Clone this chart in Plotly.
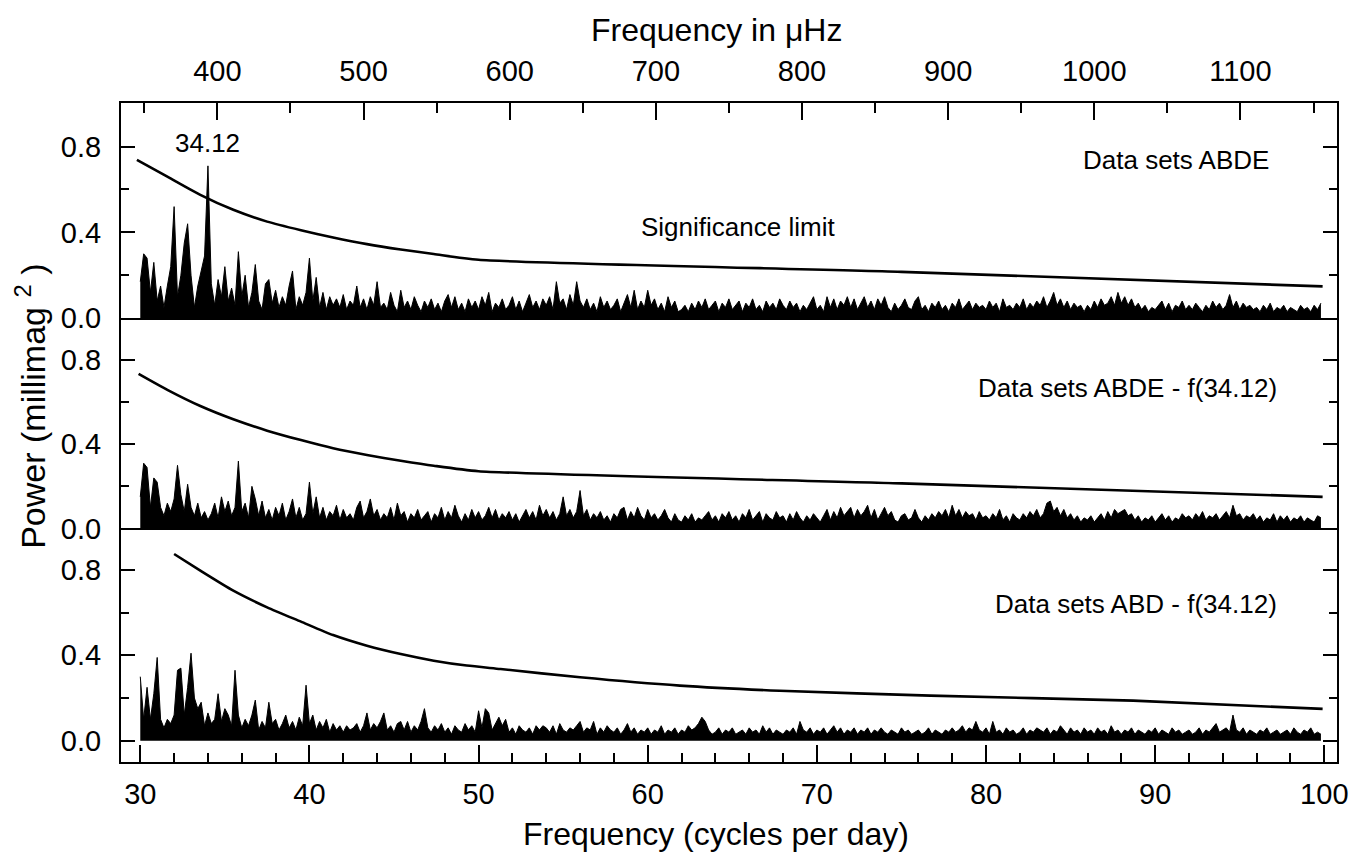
import plotly.graph_objects as go

# ---------------- data ----------------
FREQ_START = 30.0      # cycles per day
FREQ_STEP = 0.2
CD_TO_UHZ = 11.574     # 1 c/d in microHz

# Data sets ABDE
power_abde = [
    .17, .30, .28, .12, .26, .08, .15, .05, .15, .24,
    .52, .10, .20, .35, .44, .20, .05, .15, .22, .29,
    .71, .16, .06, .18, .10, .24, .08, .14, .06, .31,
    .10, .20, .05, .12, .25, .08, .04, .16, .18, .07,
    .13, .05, .10, .06, .15, .22, .04, .10, .06, .12,
    .28, .08, .19, .05, .12, .04, .10, .06, .09, .05,
    .11, .04, .08, .06, .15, .05, .09, .04, .10, .06,
    .17, .05, .07, .04, .12, .06, .03, .13, .05, .08,
    .04, .10, .06, .03, .08, .05, .09, .04, .07, .03,
    .08, .11, .05, .10, .04, .07, .03, .09, .05, .08,
    .04, .10, .06, .12, .03, .07, .05, .09, .04, .06,
    .10, .04, .08, .03, .07, .11, .05, .08, .04, .09,
    .06, .10, .04, .17, .07, .09, .04, .11, .06, .17,
    .08, .05, .09, .04, .07, .03, .10, .05, .08, .04,
    .06, .09, .03, .07, .11, .05, .13, .04, .08, .05,
    .13, .06, .09, .04, .07, .03, .10, .05, .08, .03,
    .04, .06, .03, .07, .04, .08, .05, .09, .04, .06,
    .08, .03, .07, .05, .09, .04, .06, .08, .03, .07,
    .05, .09, .04, .06, .03, .08, .05, .07, .04, .09,
    .06, .04, .08, .05, .07, .03, .06, .04, .07, .10,
    .04, .06, .03, .10, .05, .09, .04, .08, .06, .10,
    .05, .09, .04, .07, .10, .05, .08, .04, .09, .06,
    .10, .05, .03, .07, .04, .06, .09, .05, .04, .08,
    .10, .04, .06, .03, .07, .05, .08, .04, .06, .03,
    .07, .05, .09, .04, .06, .08, .04, .07, .05, .06,
    .04, .08, .05, .07, .03, .09, .05, .06, .04, .07,
    .05, .09, .04, .07, .05, .08, .06, .10, .05, .08,
    .12, .06, .09, .05, .08, .04, .07, .05, .06, .03,
    .06, .04, .08, .05, .09, .06, .07, .10, .06, .12,
    .07, .10, .06, .09, .05, .07, .04, .06, .03, .05,
    .04, .06, .08, .04, .07, .03, .06, .05, .08, .04,
    .06, .04, .07, .05, .03, .06, .04, .08, .05, .07,
    .04, .06, .11, .05, .08, .04, .07, .05, .06, .04,
    .05, .03, .06, .04, .07, .03, .05, .04, .06, .03,
    .05, .04, .03, .06, .04, .05, .03, .06, .04, .07,
]

# Data sets ABDE - f(34.12)
power_abde_pw = [
    .15, .31, .29, .10, .24, .22, .10, .06, .12, .08,
    .14, .30, .16, .08, .21, .10, .06, .12, .05, .08,
    .04, .07, .12, .05, .15, .08, .13, .06, .10, .32,
    .08, .12, .05, .20, .14, .06, .13, .05, .09, .04,
    .10, .06, .12, .04, .08, .14, .05, .10, .04, .07,
    .22, .07, .15, .05, .10, .04, .08, .06, .11, .04,
    .09, .05, .07, .04, .10, .13, .05, .08, .14, .06,
    .09, .04, .07, .05, .10, .04, .12, .06, .08, .03,
    .07, .05, .09, .04, .06, .08, .03, .07, .05, .10,
    .04, .08, .05, .11, .06, .03, .07, .04, .09, .05,
    .08, .04, .06, .10, .05, .09, .04, .07, .05, .08,
    .04, .07, .03, .06, .09, .05, .08, .04, .11, .06,
    .09, .05, .08, .04, .07, .15, .06, .09, .05, .08,
    .18, .06, .09, .04, .07, .05, .08, .04, .06, .03,
    .07, .05, .09, .10, .04, .08, .05, .10, .06, .04,
    .09, .05, .07, .04, .06, .09, .05, .03, .07, .04,
    .03, .06, .04, .07, .03, .05, .04, .06, .08, .04,
    .06, .03, .07, .05, .08, .04, .06, .03, .07, .05,
    .09, .04, .06, .08, .03, .07, .05, .04, .08, .05,
    .06, .03, .07, .04, .08, .05, .03, .06, .04, .07,
    .05, .03, .06, .09, .04, .08, .05, .10, .06, .08,
    .10, .05, .09, .06, .08, .11, .05, .09, .04, .07,
    .10, .06, .08, .04, .03, .06, .07, .04, .05, .09,
    .05, .03, .06, .04, .07, .05, .08, .06, .09, .05,
    .11, .06, .09, .05, .08, .06, .07, .04, .08, .05,
    .06, .04, .07, .05, .09, .04, .06, .03, .07, .05,
    .04, .07, .05, .08, .06, .09, .05, .07, .12, .13,
    .08, .10, .06, .09, .05, .07, .04, .06, .03, .05,
    .04, .06, .03, .05, .07, .04, .08, .05, .09, .07,
    .08, .09, .06, .07, .04, .06, .03, .05, .04, .06,
    .03, .05, .07, .04, .06, .03, .05, .04, .07, .05,
    .06, .04, .07, .05, .08, .04, .06, .05, .07, .04,
    .06, .08, .05, .11, .06, .07, .04, .06, .05, .07,
    .04, .06, .03, .05, .04, .07, .03, .06, .04, .06,
    .03, .05, .04, .06, .03, .05, .04, .03, .06, .05,
]

# Data sets ABD - f(34.12)
power_abd_pw = [
    .30, .10, .25, .10, .22, .39, .10, .06, .10, .08,
    .12, .33, .34, .12, .25, .41, .20, .15, .18, .07,
    .13, .08, .10, .22, .09, .15, .12, .07, .33, .12,
    .06, .10, .07, .12, .19, .05, .09, .06, .18, .08,
    .10, .05, .08, .12, .06, .09, .05, .11, .07, .26,
    .08, .12, .05, .09, .06, .10, .04, .08, .05, .07,
    .04, .07, .05, .06, .08, .04, .07, .13, .05, .08,
    .06, .09, .13, .05, .07, .04, .08, .09, .05, .09,
    .04, .07, .05, .09, .15, .06, .04, .07, .05, .08,
    .04, .06, .03, .07, .05, .04, .08, .05, .07, .04,
    .14, .06, .15, .13, .05, .08, .11, .07, .10, .04,
    .06, .03, .07, .05, .04, .06, .03, .07, .05, .07,
    .06, .04, .07, .03, .08, .05, .04, .06, .05, .07,
    .09, .04, .06, .05, .09, .03, .06, .04, .07, .05,
    .04, .06, .03, .05, .08, .04, .06, .03, .05, .04,
    .06, .03, .05, .04, .07, .03, .05, .04, .06, .03,
    .05, .04, .07, .05, .06, .08, .11, .09, .05, .03,
    .04, .06, .03, .05, .04, .06, .03, .04, .05, .03,
    .06, .04, .05, .03, .07, .04, .06, .03, .05, .04,
    .03, .05, .04, .06, .03, .09, .05, .04, .06, .03,
    .05, .04, .06, .03, .05, .07, .04, .06, .03, .05,
    .04, .06, .03, .05, .04, .06, .03, .05, .04, .06,
    .04, .03, .05, .04, .03, .06, .04, .05, .03, .04,
    .05, .03, .04, .06, .03, .05, .04, .03, .05, .04,
    .06, .04, .05, .07, .04, .06, .05, .09, .05, .04,
    .06, .03, .09, .04, .05, .03, .06, .04, .05, .03,
    .04, .06, .03, .05, .04, .06, .05, .04, .06, .03,
    .05, .04, .07, .05, .03, .06, .04, .05, .03, .06,
    .04, .05, .03, .06, .04, .05, .03, .07, .04, .05,
    .03, .05, .04, .06, .03, .05, .04, .03, .05, .04,
    .06, .03, .05, .04, .03, .06, .04, .05, .03, .04,
    .05, .03, .04, .06, .03, .05, .04, .06, .08, .04,
    .05, .06, .04, .12, .05, .04, .06, .03, .05, .04,
    .03, .05, .04, .06, .03, .04, .05, .03, .04, .05,
    .03, .06, .04, .03, .05, .04, .06, .03, .04, .03,
]

# significance limits
sig_abde_x = [29.8, 31.6, 33.55, 35.5, 37.5, 39.5, 41.4, 43.4, 45.4, 47.35, 50.0, 75.0, 99.9]
sig_abde_y = [0.738, 0.66, 0.575, 0.505, 0.450, 0.410, 0.376, 0.345, 0.320, 0.299, 0.272, 0.216, 0.148]
sig_abde_pw_x = [29.9, 31.6, 33.55, 35.5, 37.5, 39.5, 41.4, 43.4, 45.4, 47.35, 50.0, 75.0, 99.9]
sig_abde_pw_y = [0.735, 0.659, 0.582, 0.519, 0.465, 0.420, 0.381, 0.349, 0.322, 0.298, 0.272, 0.214, 0.150]
sig_abd_pw_x = [32.0, 33.55, 35.5, 37.5, 39.5, 41.4, 43.4, 45.4, 47.35, 49.3, 51.3, 56.0, 61.9, 67.8, 76.7, 88.7, 99.9]
sig_abd_pw_y = [0.875, 0.797, 0.703, 0.625, 0.558, 0.495, 0.445, 0.406, 0.375, 0.352, 0.336, 0.297, 0.258, 0.234, 0.211, 0.1875, 0.149]

x_ticks_cd = [30, 40, 50, 60, 70, 80, 90, 100]
x_ticks_uhz = [400, 500, 600, 700, 800, 900, 1000, 1100]
y_ticks = [0.0, 0.4, 0.8]

# ---------------- figure ----------------
def freqs(values):
    return [round(FREQ_START + i * FREQ_STEP, 2) for i in range(len(values))]

XR = [28.86, 100.75]
FONT = "Liberation Sans, Arial, Helvetica, sans-serif"
TICKFONT = dict(family=FONT, size=29, color="black")
SIG_LINE = dict(color="black", width=2.6, shape="spline", smoothing=0.6)
DATA_LINE = dict(color="black", width=1)

fig = go.Figure()

# bottom panel
fig.add_trace(go.Scatter(x=freqs(power_abd_pw), y=power_abd_pw, mode="lines",
                         xaxis="x", yaxis="y", line=DATA_LINE, fill="tozeroy",
                         fillcolor="black", showlegend=False, hoverinfo="skip"))
fig.add_trace(go.Scatter(x=sig_abd_pw_x, y=sig_abd_pw_y, mode="lines",
                         xaxis="x", yaxis="y", line=SIG_LINE,
                         showlegend=False, hoverinfo="skip"))
# middle panel
fig.add_trace(go.Scatter(x=freqs(power_abde_pw), y=power_abde_pw, mode="lines",
                         xaxis="x2", yaxis="y2", line=DATA_LINE, fill="tozeroy",
                         fillcolor="black", showlegend=False, hoverinfo="skip"))
fig.add_trace(go.Scatter(x=sig_abde_pw_x, y=sig_abde_pw_y, mode="lines",
                         xaxis="x2", yaxis="y2", line=SIG_LINE,
                         showlegend=False, hoverinfo="skip"))
# top panel: data on the c/d axis, significance limit on the muHz axis
fig.add_trace(go.Scatter(x=freqs(power_abde), y=power_abde, mode="lines",
                         xaxis="x3", yaxis="y3", line=DATA_LINE, fill="tozeroy",
                         fillcolor="black", showlegend=False, hoverinfo="skip"))
fig.add_trace(go.Scatter(x=[v * CD_TO_UHZ for v in sig_abde_x], y=sig_abde_y,
                         mode="lines", xaxis="x4", yaxis="y3", line=SIG_LINE,
                         showlegend=False, hoverinfo="skip"))

common_x = dict(range=XR, showgrid=False, zeroline=False, showline=True,
                linecolor="black", linewidth=2)
common_y = dict(showgrid=False, zeroline=False, showline=True, linecolor="black",
                linewidth=2, mirror="ticks", ticks="inside", ticklen=14, tickwidth=2,
                tickcolor="black", tickvals=y_ticks, ticktext=[f"{v:.1f}" for v in y_ticks],
                tickfont=TICKFONT, ticklabelstandoff=12,
                minor=dict(tickvals=[0.2, 0.6], ticklen=8, tickwidth=2,
                           tickcolor="black", ticks="inside"))

D1, D2 = 0.3545, 0.6735

fig.update_layout(
    width=1360, height=849, autosize=False,
    paper_bgcolor="white", plot_bgcolor="white",
    margin=dict(l=113, r=31, t=95, b=95),
    xaxis=dict(**common_x, anchor="y", ticks="inside", ticklen=17, tickwidth=2,
               tickcolor="black", tickvals=x_ticks_cd, tickfont=TICKFONT,
               ticklabelstandoff=5,
               minor=dict(dtick=2, tick0=30, ticklen=9, tickwidth=1.5,
                          tickcolor="black", ticks="inside")),
    xaxis2=dict(**common_x, anchor="y2", ticks="", showticklabels=False),
    xaxis3=dict(**common_x, anchor="y3", ticks="", showticklabels=False, mirror=True),
    xaxis4=dict(range=[XR[0] * CD_TO_UHZ, XR[1] * CD_TO_UHZ], overlaying="x3",
                anchor="y3", side="top", showgrid=False, zeroline=False,
                showline=False, ticks="inside", ticklen=17, tickwidth=2,
                tickcolor="black", tickvals=x_ticks_uhz, tickfont=TICKFONT,
                ticklabelstandoff=15,
                minor=dict(dtick=50, tick0=0, ticklen=10, tickwidth=1.5,
                           tickcolor="black", ticks="inside")),
    yaxis=dict(**common_y, domain=[0, D1], anchor="x", range=[-0.1, 0.995]),
    yaxis2=dict(**common_y, domain=[D1, D2], anchor="x2", range=[0, 1.0]),
    yaxis3=dict(**common_y, domain=[D2, 1.0], anchor="x3", range=[0, 1.003]),
)

TF = dict(family=FONT, size=26, color="black")
TITLEF = dict(family=FONT, size=32, color="black")
annotations = [
    dict(text="34.12", x=34.0, y=0.817, xref="x3", yref="y3", showarrow=False,
         font=TF, xanchor="center", yanchor="middle"),
    dict(text="Data sets ABDE", x=0.946, y=0.738, xref="paper", yref="y3",
         showarrow=False, font=TF, xanchor="right", yanchor="middle"),
    dict(text="Significance limit", x=0.507, y=0.426, xref="paper", yref="y3",
         showarrow=False, font=TF, xanchor="center", yanchor="middle"),
    dict(text="Data sets ABDE - f(34.12)", x=0.952, y=0.668, xref="paper", yref="y2",
         showarrow=False, font=TF, xanchor="right", yanchor="middle"),
    dict(text="Data sets ABD - f(34.12)", x=0.952, y=0.642, xref="paper", yref="y",
         showarrow=False, font=TF, xanchor="right", yanchor="middle"),
    dict(text="Frequency (cycles per day)", x=0.489, y=-0.109, xref="paper",
         yref="paper", showarrow=False, font=TITLEF,
         xanchor="center", yanchor="middle"),
    dict(text="Frequency in \u03bcHz", x=0.490, y=1.111, xref="paper", yref="paper",
         showarrow=False, font=TITLEF, xanchor="center", yanchor="middle"),
    dict(text="Power (millimag <sup>2</sup> )", x=-0.074, y=0.539, xref="paper",
         yref="paper", showarrow=False, textangle=-90,
         font=dict(family=FONT, size=34, color="black"),
         xanchor="center", yanchor="middle"),
]
fig.update_layout(annotations=annotations)

fig.write_html("out.html")
